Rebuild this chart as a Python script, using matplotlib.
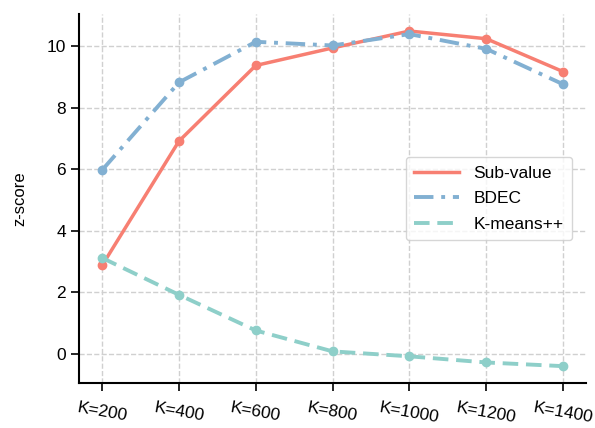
import matplotlib
matplotlib.use("Agg")
import matplotlib.pyplot as plt

plt.rcParams['font.family'] = ['Liberation Sans', 'DejaVu Sans']

labels = ['K=200', 'K=400', 'K=600', 'K=800', 'K=1000', 'K=1200', 'K=1400']
sub_value = [2.88, 6.92, 9.38, 9.95, 10.5, 10.25, 9.18]
bdec = [5.98, 8.83, 10.15, 10.03, 10.4, 9.92, 8.77]
kmeans_pp = [3.12, 1.92, 0.76, 0.08, -0.08, -0.28, -0.4]

x = range(len(labels))

fig, ax = plt.subplots(figsize=(5.95, 4.28), dpi=100)
fig.subplots_adjust(left=0.133, right=0.985, top=0.967, bottom=0.105)

series = [
    (sub_value, '-', '#F77F72', 2.5, 'Sub-value'),
    (bdec, (0, (5, 2, 1, 2)), '#82B0D2', 2.8, 'BDEC'),
    (kmeans_pp, (0, (4, 2)), '#8ECFC9', 2.8, 'K-means++'),
]
for ys, ls, c, lw, name in series:
    # line carries the legend entry, dots drawn on top without one
    ax.plot(x, ys, linestyle=ls, color=c, lw=lw, label=name, zorder=3)
    ax.plot(x, ys, 'o', color=c, ms=6, zorder=4)

ax.set_xlim(-0.3, 6.3)
ax.set_ylim(-0.95, 11.05)
ax.set_xticks(list(x))
ax.set_xticklabels(labels, rotation=-10, fontsize=12.5)
ax.set_yticks([0, 2, 4, 6, 8, 10])
ax.tick_params(axis='y', labelsize=12.5, length=6, width=1.2)
ax.tick_params(axis='x', length=6, width=1.2, pad=6)
ax.set_ylabel('z-score', fontsize=12, labelpad=14)

ax.grid(True, ls='--', color='#d0d0d0', lw=1)
ax.set_axisbelow(True)
for s in ['top', 'right']:
    ax.spines[s].set_visible(False)
for s in ['left', 'bottom']:
    ax.spines[s].set_linewidth(1.5)

ax.legend(loc='center right', fontsize=12.5, handlelength=2.6, borderpad=0.5,
          labelspacing=0.6, borderaxespad=0.8)

fig.savefig('out.png', dpi=100)
